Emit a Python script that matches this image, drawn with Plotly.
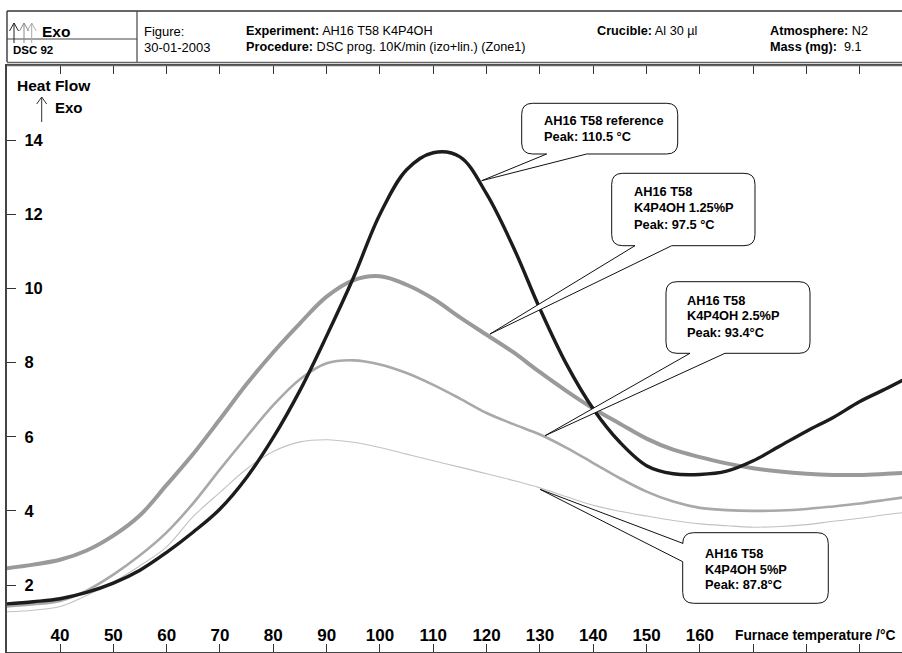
import plotly.graph_objects as go

# ---------------- data ----------------
temp_ref = [30, 35, 40, 45, 50, 55, 60, 65, 70, 75, 80, 85, 90, 95, 100, 105, 110, 115, 120,
            125, 130, 135, 140, 145, 150, 155, 160, 165, 170, 175, 180, 185, 190, 195, 198]
hf_ref = [1.49, 1.55, 1.63, 1.80, 2.05, 2.40, 2.88, 3.43, 4.05, 4.90, 5.98, 7.25, 8.72, 10.28, 12.0, 13.2,
          13.66, 13.55, 12.55, 11.12, 9.45, 7.95, 6.75, 5.85, 5.22, 5.0, 4.98, 5.07, 5.35, 5.75,
          6.15, 6.52, 6.95, 7.3, 7.52]

temp_125 = [30, 35, 40, 45, 50, 55, 60, 65, 70, 75, 80, 85, 90, 95, 100, 105, 110, 115,
            120, 125, 130, 135, 140, 145, 150, 155, 160, 165, 170, 175, 180, 185, 190, 195, 198]
hf_125 = [2.45, 2.55, 2.68, 2.93, 3.33, 3.88, 4.7, 5.54, 6.47, 7.42, 8.28, 9.06, 9.78, 10.22,
          10.33, 10.1, 9.72, 9.22, 8.75, 8.28, 7.74, 7.23, 6.76, 6.35, 5.95, 5.65, 5.45, 5.28, 5.15,
          5.06, 5.0, 4.97, 4.97, 5.0, 5.02]

temp_25 = [30, 35, 40, 45, 50, 55, 60, 65, 70, 75, 80, 85, 90, 95, 100, 105, 110, 115, 120,
           125, 130, 135, 140, 145, 150, 155, 160, 165, 170, 175, 180, 185, 190, 195, 198]
hf_25 = [1.42, 1.48, 1.57, 1.85, 2.28, 2.8, 3.42, 4.21, 5.12, 6.0, 6.85, 7.55, 7.98, 8.06, 7.95,
         7.72, 7.4, 7.03, 6.64, 6.34, 6.06, 5.7, 5.29, 4.88, 4.52, 4.25, 4.08, 4.02, 4.0, 4.01, 4.05,
         4.12, 4.2, 4.3, 4.36]

temp_5 = [30, 35, 40, 45, 50, 55, 60, 65, 70, 75, 80, 85, 90, 95, 100, 105, 110, 115, 120, 125,
          130, 135, 140, 145, 150, 155, 160, 165, 170, 175, 180, 185, 190, 195, 198]
hf_5 = [1.28, 1.32, 1.42, 1.72, 2.08, 2.52, 3.03, 3.85, 4.5, 5.13, 5.6, 5.86, 5.92, 5.85, 5.71,
        5.53, 5.35, 5.18, 5.0, 4.82, 4.62, 4.38, 4.15, 3.99, 3.86, 3.74, 3.65, 3.6, 3.56, 3.58, 3.63,
        3.72, 3.8, 3.9, 3.95]

x_tickvals = [40, 50, 60, 70, 80, 90, 100, 110, 120, 130, 140, 150, 160, 170, 180, 190]
x_ticktext = ["40", "50", "60", "70", "80", "90", "100", "110", "120", "130", "140", "150", "160", "", "", ""]
y_tickvals = [2, 4, 6, 8, 10, 12, 14]

callouts = [
    ["AH16 T58 reference", "Peak: 110.5 °C"],
    ["AH16 T58", "K4P4OH 1.25%P", "Peak: 97.5 °C"],
    ["AH16 T58", "K4P4OH 2.5%P", "Peak: 93.4°C"],
    ["AH16 T58", "K4P4OH 5%P", "Peak: 87.8°C"],
]

# ---------------- layout geometry ----------------
W, H = 902, 653
L, R, T, B = 7, 902, 66, 652
FONT = "Liberation Sans, Arial, sans-serif"


def px(x):
    return (x - L) / (R - L)


def py(y):
    return (B - y) / (B - T)


fig = go.Figure()

series = [
    (temp_5, hf_5, "#c2c2c2", 1.1, "AH16 T58 K4P4OH 5%P"),
    (temp_25, hf_25, "#a9a9a9", 2.6, "AH16 T58 K4P4OH 2.5%P"),
    (temp_125, hf_125, "#9a9a9a", 4.0, "AH16 T58 K4P4OH 1.25%P"),
    (temp_ref, hf_ref, "#1c1c1c", 3.4, "AH16 T58 reference"),
]
for xs, ys, col, w, name in series:
    fig.add_trace(go.Scatter(x=xs, y=ys, mode="lines", name=name,
                             line=dict(color=col, width=w, shape="spline", smoothing=1.0)))

fig.update_layout(
    width=W, height=H, autosize=False,
    margin=dict(l=L, r=W - R, t=T, b=H - B, pad=0),
    paper_bgcolor="white", plot_bgcolor="white",
    showlegend=False,
    font=dict(family=FONT, color="black"),
    xaxis=dict(range=[30.06, 197.9], tickvals=x_tickvals, ticktext=x_ticktext,
               ticks="inside", ticklen=8, tickwidth=1, tickcolor="#333",
               showline=True, linecolor="#444", linewidth=1.5, mirror="ticks",
               showgrid=False, zeroline=False, ticklabelposition="inside",
               tickfont=dict(family=FONT, size=17, color="black", weight="bold")),
    yaxis=dict(range=[0.193, 16.0], tickvals=y_tickvals,
               ticks="inside", ticklen=9, tickwidth=1, tickcolor="#333",
               showline=True, linecolor="#444", linewidth=1.5, mirror=False,
               showgrid=False, zeroline=False, ticklabelposition="inside",
               ticklabelstandoff=9,
               tickfont=dict(family=FONT, size=16.5, color="black", weight="bold")),
)

shapes = []


def line(x0, y0, x1, y1, color="#555", width=1.0):
    shapes.append(dict(type="line", xref="paper", yref="paper",
                       x0=px(x0), y0=py(y0), x1=px(x1), y1=py(y1),
                       line=dict(color=color, width=width)))


# header frame
line(7, 11, 902, 11, "#666", 2)
line(7, 11, 7, 62, "#444", 1.5)
line(137, 11, 137, 62, "#444", 1.2)
line(7, 39, 137, 39, "#444", 1.2)
line(7, 62.5, 902, 62.5, "#666", 1.5)
line(7, 65.5, 902, 65.5, "#666", 1.5)

# header icon arrows
for sx, col in [(14, "#222"), (24, "#888"), (31.7, "#aaa")]:
    line(sx, 23, sx, 43, col, 1)
    line(sx - 4.5, 31, sx, 23, col, 1)
    line(sx, 23, sx + 4.5, 31, col, 1)

# Exo arrow near axis title
line(41.7, 97, 41.7, 122, "#333", 1)
line(36.7, 104, 41.7, 97, "#333", 1)
line(41.7, 97, 46.7, 104, "#333", 1)


def path_str(pts):
    out = []
    for cmd, coords in pts:
        s = " ".join(f"{px(a):.5f},{py(b):.5f}" for a, b in coords)
        out.append(f"{cmd}{s}")
    return " ".join(out) + " Z"


def callout(x0, y0, x1, y1, tail, tip, side="bottom", r=11):
    tx, ty = tip
    a, b = tail
    if side == "bottom":
        pts = [("M", [(x0 + r, y0)]), ("L", [(x1 - r, y0)]), ("Q", [(x1, y0), (x1, y0 + r)]),
               ("L", [(x1, y1 - r)]), ("Q", [(x1, y1), (x1 - r, y1)]),
               ("L", [(b, y1)]), ("L", [(tx, ty)]), ("L", [(a, y1)]),
               ("L", [(x0 + r, y1)]), ("Q", [(x0, y1), (x0, y1 - r)]),
               ("L", [(x0, y0 + r)]), ("Q", [(x0, y0), (x0 + r, y0)])]
    else:
        pts = [("M", [(x0 + r, y0)]), ("L", [(x1 - r, y0)]), ("Q", [(x1, y0), (x1, y0 + r)]),
               ("L", [(x1, y1 - r)]), ("Q", [(x1, y1), (x1 - r, y1)]),
               ("L", [(x0 + r, y1)]), ("Q", [(x0, y1), (x0, y1 - r)]),
               ("L", [(x0, b)]), ("L", [(tx, ty)]), ("L", [(x0, a)]),
               ("L", [(x0, y0 + r)]), ("Q", [(x0, y0), (x0 + r, y0)])]
    shapes.append(dict(type="path", xref="paper", yref="paper", path=path_str(pts),
                       fillcolor="white", line=dict(color="#111", width=1), layer="above"))


callout(521.7, 103.3, 677.7, 154, (546.7, 586.7), (481.7, 180.7))
callout(611.7, 173.3, 755, 245.7, (635, 671.7), (490, 334))
callout(666, 281.7, 810, 353.3, (690, 725), (545, 435.7))
callout(682.7, 532.7, 828.3, 603.3, (543.3, 561.7), (540, 489.3), side="left")

fig.update_layout(shapes=shapes)


def text(x, y, s, size=13, anchor="left"):
    fig.add_annotation(xref="paper", yref="paper", x=px(x), y=py(y), text=s,
                       showarrow=False, xanchor=anchor, yanchor="middle",
                       font=dict(family=FONT, size=size, color="black"))


# header texts
text(40, 31, "<b>Exo</b>", 15.5)
text(11, 50, "<b>DSC 92</b>", 11.5)
text(142, 31, "Figure:", 13)
text(142, 47, "30-01-2003", 13)
text(244, 31, "<b>Experiment:</b> AH16 T58 K4P4OH", 12.7)
text(244, 47, "<b>Procedure:</b> DSC prog. 10K/min (izo+lin.) (Zone1)", 12.7)
text(595, 31, "<b>Crucible:</b> Al 30 µl", 12.7)
text(768, 31, "<b>Atmosphere:</b> N2", 12.7)
text(768, 47, "<b>Mass (mg):</b>  9.1", 12.7)

# axis titles
text(15, 85, "<b>Heat Flow</b>", 15.5)
text(53, 108, "<b>Exo</b>", 15)
text(733, 635, "<b>Furnace temperature /°C</b>", 13.8)

# callout texts
text_pos = [(541.7, [120.7, 136.7]), (631.7, [191.7, 207.7, 224]),
            (685, [300, 315.7, 332]), (703.3, [553.5, 569, 584.5])]
for (tx, ys), lines in zip(text_pos, callouts):
    for yy, s in zip(ys, lines):
        text(tx, yy, f"<b>{s}</b>", 12.8)

fig.write_html("out.html")
